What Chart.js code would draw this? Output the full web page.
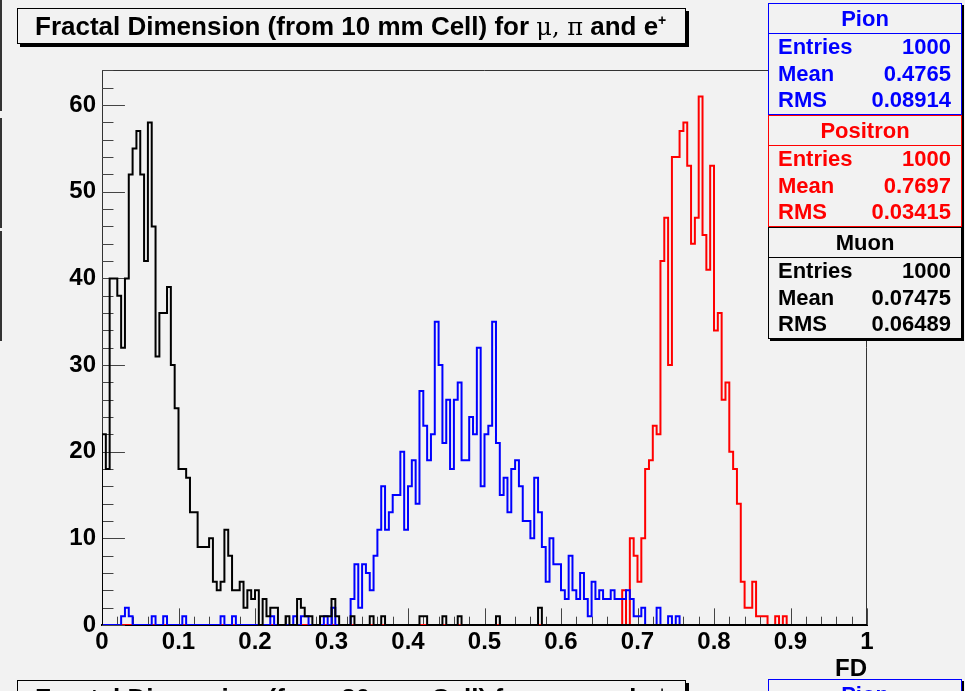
<!DOCTYPE html>
<html><head><meta charset="utf-8">
<script src="https://cdn.jsdelivr.net/npm/chart.js@4.4.1/dist/chart.umd.min.js"></script>
<style>
html,body{margin:0;padding:0;background:#f2f2f2;}
#wrap{position:relative;width:965px;height:691px;overflow:hidden;background:#f2f2f2;font-family:"Liberation Sans",Arial,sans-serif;font-weight:bold;}
#c{position:absolute;left:0;top:0;}
.tbox{position:absolute;border:1px solid #000;box-shadow:3px 3px 0 #000;background:#f2f2f2;font-size:26px;line-height:34px;white-space:nowrap;padding-left:17px;box-sizing:border-box;}
.sym{font-family:"DejaVu Serif","Liberation Serif",serif;font-weight:normal;font-size:24px;}
.stat{position:absolute;left:768px;width:194px;height:112px;box-sizing:border-box;border:1px solid;background:#f2f2f2;box-shadow:2px 2px 0 #000;font-size:22px;}
.stat .hd{height:29px;line-height:29px;text-align:center;border-bottom:1px solid;}
.stat .row{height:26.5px;line-height:26.5px;padding:0 10px 0 9px;display:flex;justify-content:space-between;}
#fd{position:absolute;left:820px;top:654px;width:47px;text-align:right;font-size:24px;}
.edge{position:absolute;left:0;width:2px;background:#333;}
</style></head>
<body><div id="wrap">
<canvas id="c" width="965" height="691"></canvas>
<div class="edge" style="top:0;height:111px"></div>
<div class="edge" style="top:118px;height:110px"></div>
<div class="edge" style="top:231px;height:110px"></div>
<div class="tbox" style="left:17px;top:8px;width:669px;height:36px;">Fractal Dimension (from 10 mm Cell) for <span class="sym">μ, π</span> and e<sup style="font-size:14px;line-height:0">+</sup></div>
<div class="stat" style="top:3px;color:#0000ff;border-color:#0000ff;"><div class="hd" style="border-color:#0000ff">Pion</div><div class="row"><span>Entries</span><span>1000</span></div><div class="row"><span>Mean</span><span>0.4765</span></div><div class="row"><span>RMS</span><span>0.08914</span></div></div>
<div class="stat" style="top:115px;color:#ff0000;border-color:#ff0000;"><div class="hd" style="border-color:#ff0000">Positron</div><div class="row"><span>Entries</span><span>1000</span></div><div class="row"><span>Mean</span><span>0.7697</span></div><div class="row"><span>RMS</span><span>0.03415</span></div></div>
<div class="stat" style="top:227px;color:#000;border-color:#000;"><div class="hd" style="border-color:#000">Muon</div><div class="row"><span>Entries</span><span>1000</span></div><div class="row"><span>Mean</span><span>0.07475</span></div><div class="row"><span>RMS</span><span>0.06489</span></div></div>
<div id="fd">FD</div>
<div class="tbox" style="left:17px;top:680px;width:669px;height:36px;">Fractal Dimension (from 20 mm Cell) for <span class="sym">μ, π</span> and e<sup style="font-size:14px;line-height:0">+</sup></div>
<div class="stat" style="top:679px;color:#0000ff;border-color:#0000ff;"><div class="hd" style="border-color:#0000ff">Pion</div></div>
</div>
<script>
// ---- data (200 bins, FD from 0 to 1) ----
const xMin = 0, xMax = 1;
const yMax = 64.05;
const xTickLabels = ["0","0.1","0.2","0.3","0.4","0.5","0.6","0.7","0.8","0.9","1"];
const yTickLabels = ["0","10","20","30","40","50","60"];

const muon = [
 22,18,40,40,38,32,40,52,55,57,
 52,42,58,46,31,36,36,39,30,25,
 18,18,17,13,13,9,9,9,10,5,
 4,5,11,8,4,4,5,2,4,3,
 4,0,3,1,2,2,0,0,1,0,
 0,3,2,1,1,0,0,1,1,1,
 3,1,0,0,0,1,0,0,0,0,
 1,0,0,1,0,0,0,0,0,0,
 0,0,0,1,1,0,0,0,0,1,
 0,0,0,1,0,0,0,0,0,0,
 0,0,0,1,0,0,0,0,0,0,
 0,0,0,0,2,0,0,0,0,0,
 0,0,0,0,0,0,0,0,0,0,
 0,0,0,0,0,0,0,0,0,0,
 0,0,0,0,0,0,0,0,0,0,
 0,0,0,0,0,0,0,0,0,0,
 0,0,0,0,0,0,0,0,0,0,
 0,0,0,0,0,0,0,0,0,0,
 0,0,0,0,0,0,0,0,0,0,
 0,0,0,0,0,0,0,0,0,0];

const pion = [
 0,0,0,0,0,1,2,1,0,0,
 0,0,0,1,0,0,1,0,0,0,
 0,1,0,0,0,0,0,0,0,0,
 0,1,0,0,1,0,0,0,0,0,
 0,0,0,0,1,0,0,0,0,0,
 1,0,1,1,0,0,0,0,1,0,
 2,0,0,0,0,3,7,2,7,6,
 4,8,11,16,11,13,15,15,20,11,
 16,19,14,27,23,19,22,35,30,21,
 26,18,26,28,19,19,24,22,32,16,
 22,23,35,21,15,17,13,18,19,16,
 12,12,10,17,13,9,5,10,7,7,
 4,3,8,4,3,6,3,1,5,3,
 4,3,3,4,3,3,3,4,3,1,
 1,2,0,0,0,2,0,0,1,0,
 1,0,0,0,0,0,0,0,0,0,
 0,0,0,0,0,0,0,0,0,0,
 0,0,0,0,0,0,0,0,0,0,
 0,0,0,0,0,0,0,0,0,0,
 0,0,0,0,0,0,0,0,0,0];

const positron = [
 0,0,0,0,0,0,0,0,0,0,
 0,0,0,0,0,0,0,0,0,0,
 0,0,0,0,0,0,0,0,0,0,
 0,0,0,0,0,0,0,0,0,0,
 0,0,0,0,0,0,0,0,0,0,
 0,0,0,0,0,0,0,0,0,0,
 0,0,0,0,0,0,0,0,0,0,
 0,0,0,0,0,0,0,0,0,0,
 0,0,0,0,0,0,0,0,0,0,
 0,0,0,0,0,0,0,0,0,0,
 0,0,0,0,0,0,0,0,0,0,
 0,0,0,0,0,0,0,0,0,0,
 0,0,0,0,0,0,0,0,0,0,
 0,0,0,0,0,0,4,0,10,8,
 5,10,18,19,23,22,42,47,30,54,
 54,57,58,53,44,47,61,45,41,53,
 34,36,26,28,20,18,14,5,2,2,
 5,1,1,1,0,0,1,0,1,0,
 0,0,0,0,0,0,0,0,0,0,
 0,0,0,0,0,0,0,0,0,0];

// ---- build step outline from bin contents ----
function steps(vals){
  const w = (xMax - xMin) / vals.length;
  const pts = [{x:xMin, y:0}];
  vals.forEach((v,i)=>{
    pts.push({x:xMin + i*w, y:v});
    pts.push({x:xMin + (i+1)*w, y:v});
  });
  pts.push({x:xMax, y:0});
  return pts;
}

const FONT = '"Liberation Sans",Arial,sans-serif';

const frameAndTicks = {
  id:'frameAndTicks',
  beforeDatasetsDraw(chart){
    const {ctx, chartArea:a, scales:{x,y}} = chart;
    ctx.save();
    ctx.strokeStyle = '#333';
    ctx.lineWidth = 1;
    ctx.beginPath();
    ctx.moveTo(a.left, a.top+0.5); ctx.lineTo(a.right-0.5, a.top+0.5); ctx.lineTo(a.right-0.5, a.bottom);
    ctx.stroke();
    ctx.strokeStyle = '#444';
    const h = a.bottom - a.top, wd = a.right - a.left;
    for (let k=0; k<=50; k++){
      const v = xMin + k*(xMax-xMin)/50;
      const px = Math.round(x.getPixelForValue(v)) + 0.5;
      const len = (k%5===0) ? 0.03*h : 0.015*h;
      ctx.beginPath(); ctx.moveTo(px, a.bottom); ctx.lineTo(px, a.bottom-len); ctx.stroke();
    }
    for (let v=0; v<=yMax; v+=2){
      const py = Math.round(y.getPixelForValue(v)) + 0.5;
      const len = (v%10===0) ? 0.03*wd : 0.015*wd;
      ctx.beginPath(); ctx.moveTo(a.left, py); ctx.lineTo(a.left+len, py); ctx.stroke();
    }
    ctx.restore();
  }
};

const ds = (label, vals, color) => ({
  label, data: steps(vals), borderColor: color, borderWidth: 2,
  pointRadius: 0, fill: false, tension: 0, borderJoinStyle: 'miter', borderCapStyle:'butt'
});

new Chart(document.getElementById('c'), {
  type: 'line',
  data: { datasets: [
    ds('Muon', muon, '#000000'),
    ds('Pion', pion, '#0000ff'),
    ds('Positron', positron, '#ff0000')
  ]},
  options: {
    responsive: false,
    animation: false,
    parsing: false,
    normalized: true,
    layout: { padding: { left: 0, right: 98, top: 70, bottom: 0 } },
    plugins: { legend: { display: false }, tooltip: { enabled: false }, title: { display: false } },
    scales: {
      x: {
        type: 'linear', min: xMin, max: xMax,
        afterFit: s => { s.height = 66; },
        grid: { display: false, drawTicks: false },
        border: { display: true, color: '#000', width: 2 },
        ticks: {
          stepSize: 0.1, includeBounds: false, padding: 3, maxRotation: 0, autoSkip: false,
          color: '#000', font: { family: FONT, weight: 'bold', size: 24 },
          callback: (v) => xTickLabels[Math.round((v - xMin) / 0.1)] ?? ''
        }
      },
      y: {
        type: 'linear', min: 0, max: yMax,
        afterFit: s => { s.width = 102; },
        grid: { display: false, drawTicks: false },
        border: { display: true, color: '#333', width: 1 },
        ticks: {
          stepSize: 10, includeBounds: false, padding: 6,
          color: '#000', font: { family: FONT, weight: 'bold', size: 24 },
          callback: (v) => (Math.abs(v/10 - Math.round(v/10)) < 1e-6 ? (yTickLabels[Math.round(v/10)] ?? '') : '')
        }
      }
    }
  },
  plugins: [frameAndTicks]
});
</script>
</body></html>
